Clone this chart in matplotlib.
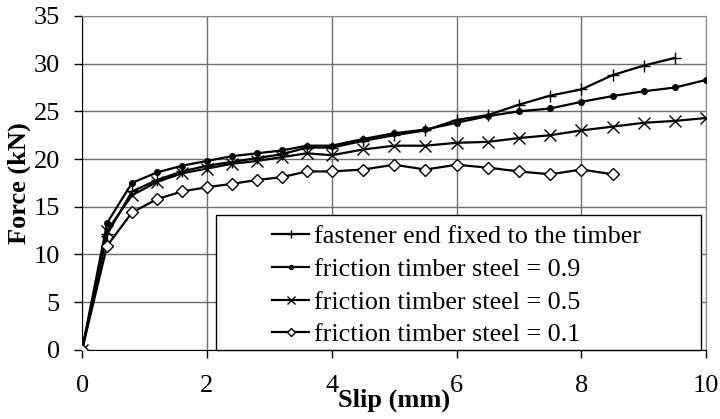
import matplotlib.pyplot as plt
from matplotlib.patches import Rectangle

plt.rcParams['font.family'] = ['Liberation Serif', 'DejaVu Serif']

# slip values (mm)
slip = [0, 0.4, 0.8, 1.2, 1.6, 2.0, 2.4, 2.8, 3.2, 3.6, 4.0, 4.5, 5.0, 5.5,
        6.0, 6.5, 7.0, 7.5, 8.0, 8.5, 9.0, 9.5, 10.0]

# force (kN) for each case
fixed_end = [0, 12.1, 16.6, 17.8, 18.7, 19.3, 19.7, 20.1, 20.5, 21.2, 21.2,
             21.9, 22.5, 23.0, 24.1, 24.6, 25.7, 26.65, 27.3, 28.8, 29.8, 30.6]
fric_09 = [0, 13.3, 17.5, 18.6, 19.3, 19.8, 20.3, 20.6, 20.9, 21.4, 21.4, 22.1,
           22.7, 23.1, 23.8, 24.5, 25.0, 25.3, 26.0, 26.6, 27.1, 27.5, 28.3]
fric_05 = [0, 12.5, 16.2, 17.6, 18.5, 19.0, 19.5, 19.8, 20.2, 20.6, 20.4, 21.0,
           21.4, 21.4, 21.7, 21.8, 22.2, 22.5, 23.0, 23.4, 23.8, 24.0, 24.3]
fric_01 = [0, 10.9, 14.4, 15.8, 16.6, 17.05, 17.4, 17.8, 18.1, 18.7, 18.7, 18.9,
           19.4, 18.9, 19.4, 19.1, 18.7, 18.4, 18.9, 18.4]

labels = ["fastener end fixed to the timber",
          "friction timber steel = 0.9",
          "friction timber steel = 0.5",
          "friction timber steel = 0.1"]


def dibujar():
    fig = plt.figure(figsize=(7.2, 4.19), dpi=100)
    ax = fig.add_axes([0.114, 0.165, 0.867, 0.797])

    ax.plot(slip[:len(fixed_end)], fixed_end, color='k', lw=1.6, marker='+',
            markersize=9, markeredgewidth=1.0, label=labels[0], zorder=3)
    ax.plot(slip, fric_09, color='k', lw=1.6, marker='o', markersize=4,
            label=labels[1], zorder=3)
    ax.plot(slip, fric_05, color='k', lw=1.6, marker='x', markersize=8,
            markeredgewidth=1.0, label=labels[2], zorder=3)
    ax.plot(slip[:len(fric_01)], fric_01, color='k', lw=1.6, marker='D',
            markersize=6, markerfacecolor='white', markeredgewidth=1.0,
            label=labels[3], zorder=3)

    ax.set_xlim(0, 10)
    ax.set_ylim(0, 35)
    ax.set_xticks([0, 2, 4, 6, 8, 10])
    ax.set_yticks([0, 5, 10, 15, 20, 25, 30, 35])
    ax.grid(True, color='#6e6e6e', lw=1.0)
    ax.set_axisbelow(True)
    for s in ['top', 'right']:
        ax.spines[s].set_color('#8a8a8a')
    for s in ['left', 'bottom']:
        ax.spines[s].set_color('k')
    ax.tick_params(direction='out', length=6, width=1, labelsize=19)
    ax.tick_params(axis='y', pad=10)
    ax.tick_params(axis='x', pad=12)

    ax.set_xlabel("Slip (mm)", fontsize=19, fontweight='bold', labelpad=-6)
    ax.set_ylabel("Force (kN)", fontsize=19, fontweight='bold', labelpad=2)

    # caja de la leyenda
    ax.add_patch(Rectangle((0.215, 0.0), 0.777, 0.404, transform=ax.transAxes,
                           facecolor='white', edgecolor='k', lw=1.0, zorder=4,
                           clip_on=False))
    leg = ax.legend(loc='upper left', bbox_to_anchor=(0.288, 0.405), frameon=False,
                    fontsize=18.8, handlelength=1.4, handletextpad=0.2,
                    labelspacing=0.36, borderaxespad=0, markerscale=0.7)
    leg.set_zorder(5)

    fig.savefig("out.png", dpi=100)


if __name__ == "__main__":
    dibujar()
